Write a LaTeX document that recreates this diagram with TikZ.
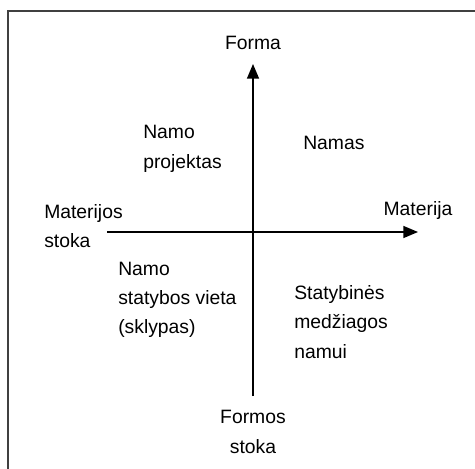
\documentclass[tikz,border=0pt]{standalone}
\usepackage{fontspec}
\setmainfont{Liberation Sans}
\usetikzlibrary{arrows.meta}

\begin{document}
\begin{tikzpicture}[x=0.75pt, y=-0.75pt,
    quadText/.style={inner sep=0pt, anchor=west, align=left, font=\fontsize{14.5}{22}\selectfont},
    axisLabel/.style={inner sep=0pt, align=center, font=\fontsize{14.5}{22}\selectfont},
    axisArrow/.style={-{Triangle[length=11pt, width=9pt]}, line width=1.1pt}]

    \useasboundingbox (0, 0) rectangle (475, 468);
    \begin{scope}
        \clip (0, 0) rectangle (475, 468);
        \draw[line width=1.5pt, black!75] (8, 11) rectangle (490, 490);
    \end{scope}

    \coordinate (xStart) at (107, 232);
    \coordinate (xEnd) at (418, 232);
    \coordinate (yStart) at (253, 396);
    \coordinate (yEnd) at (253, 64);

    \draw[axisArrow] (xStart) -- (xEnd);
    \draw[axisArrow] (yStart) -- (yEnd);

    \node[axisLabel] (forma) at (253, 43) {Forma};
    \node[axisLabel] (materija) at (418, 210) {Materija};
    \node[axisLabel] (formosStoka) at (253, 432) {Formos\\stoka};
    \node[quadText] (materijosStoka) at (44, 226) {Materijos\\stoka};

    \node[quadText] (projektas) at (143, 149) {Namo\\projektas};
    \node[quadText] (namas) at (303, 143) {Namas};
    \node[quadText] (vieta) at (118, 300) {Namo\\statybos vieta\\(sklypas)};
    \node[quadText] (medziagos) at (294, 322) {Statybinės\\medžiagos\\namui};
\end{tikzpicture}
\end{document}
